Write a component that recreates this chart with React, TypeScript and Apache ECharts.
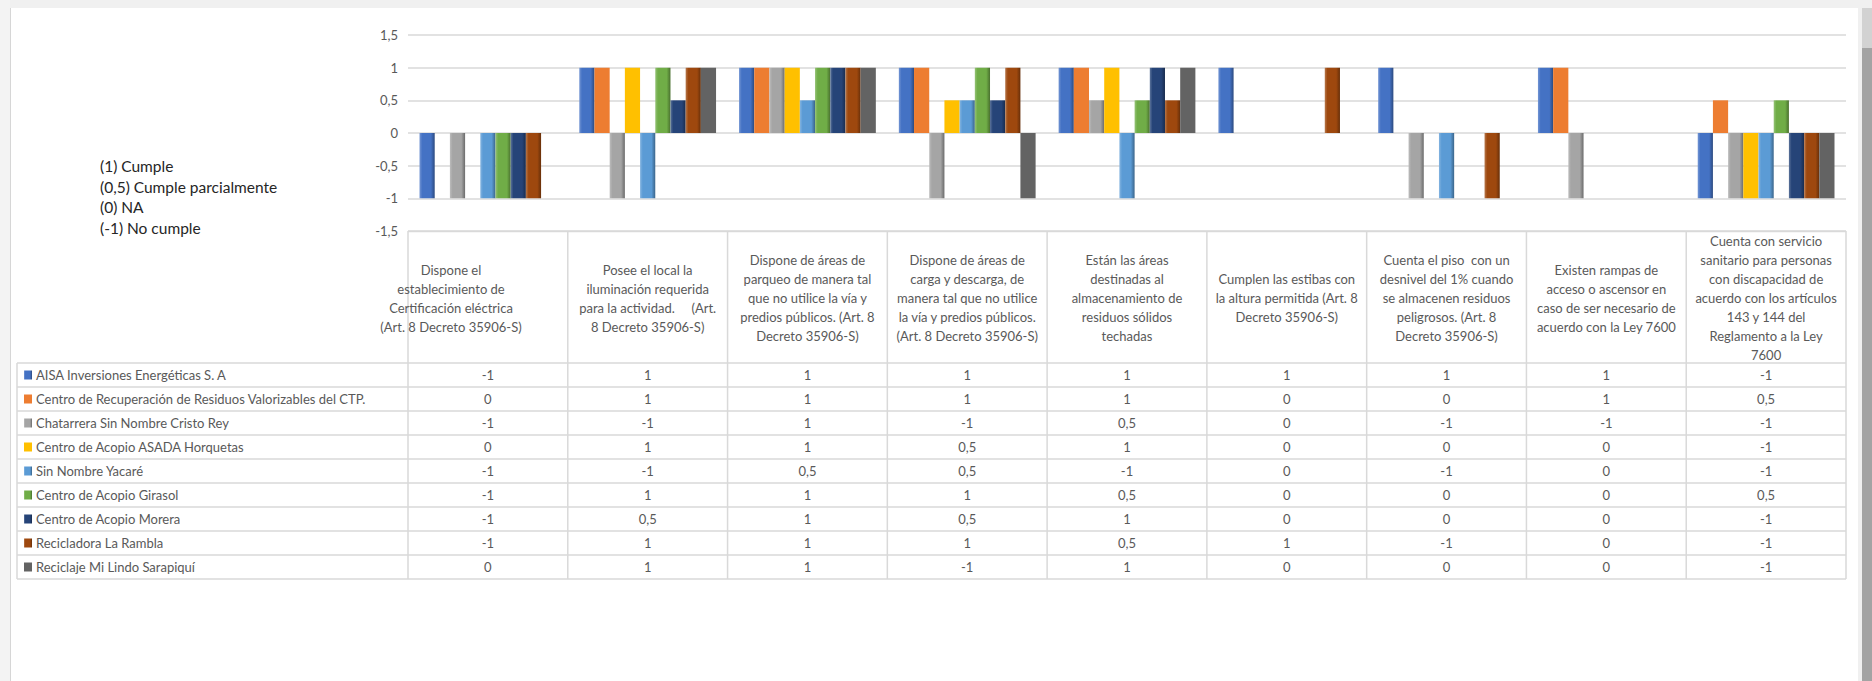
import React, { useEffect, useRef } from "react";
import * as echarts from "echarts";

const categories = [
  "Dispone el\nestablecimiento de\nCertificación eléctrica\n(Art. 8 Decreto 35906-S)",
  "Posee el local la\niluminación requerida\npara la actividad.     (Art.\n8 Decreto 35906-S)",
  "Dispone de áreas de\nparqueo de manera tal\nque no utilice la vía y\npredios públicos. (Art. 8\nDecreto 35906-S)",
  "Dispone de áreas de\ncarga y descarga, de\nmanera tal que no utilice\nla vía y predios públicos.\n(Art. 8 Decreto 35906-S)",
  "Están las áreas\ndestinadas al\nalmacenamiento de\nresiduos sólidos\ntechadas",
  "Cumplen las estibas con\nla altura permitida (Art. 8\nDecreto 35906-S)",
  "Cuenta el piso  con un\ndesnivel del 1% cuando\nse almacenen residuos\npeligrosos. (Art. 8\nDecreto 35906-S)",
  "Existen rampas de\nacceso o ascensor en\ncaso de ser necesario de\nacuerdo con la Ley 7600",
  "Cuenta con servicio\nsanitario para personas\ncon discapacidad de\nacuerdo con los artículos\n143 y 144 del\nReglamento a la Ley\n7600",
];

const seriesNames = [
  "AISA Inversiones Energéticas S. A",
  "Centro de Recuperación de Residuos Valorizables del CTP.",
  "Chatarrera Sin Nombre Cristo Rey",
  "Centro de Acopio ASADA Horquetas",
  "Sin Nombre Yacaré",
  "Centro de Acopio Girasol",
  "Centro de Acopio Morera",
  "Recicladora La Rambla",
  "Reciclaje Mi Lindo Sarapiquí",
];

const aisa = [-1, 1, 1, 1, 1, 1, 1, 1, -1];
const centroCTP = [0, 1, 1, 1, 1, 0, 0, 1, 0.5];
const chatarrera = [-1, -1, 1, -1, 0.5, 0, -1, -1, -1];
const asada = [0, 1, 1, 0.5, 1, 0, 0, 0, -1];
const yacare = [-1, -1, 0.5, 0.5, -1, 0, -1, 0, -1];
const girasol = [-1, 1, 1, 1, 0.5, 0, 0, 0, 0.5];
const morera = [-1, 0.5, 1, 0.5, 1, 0, 0, 0, -1];
const rambla = [-1, 1, 1, 1, 0.5, 1, -1, 0, -1];
const sarapiqui = [0, 1, 1, -1, 1, 0, 0, 0, -1];

const seriesValues = [aisa, centroCTP, chatarrera, asada, yacare, girasol, morera, rambla, sarapiqui];

const seriesColors = ["#4472C4", "#ED7D31", "#A5A5A5", "#FFC000", "#5B9BD5", "#70AD47", "#264478", "#9E480E", "#636363"];
const seriesBevel = [true, false, true, false, true, true, true, true, false];

const legendNotes = ["(1) Cumple", "(0,5) Cumple parcialmente", "(0) NA", "(-1) No cumple"];

// layout
const W = 1872;
const H = 681;
const GRID_LEFT = 408;
const GRID_RIGHT_X = 1846;
const GRID_TOP = 35;
const GRID_BOTTOM_Y = 231;
const TABLE_LEFT = 17;
const HEADER_BOTTOM = 363;
const ROW_H = 24;
const FONT = "Lato";
const TXT = "#595959";
const BORDER = "#d9d9d9";

const fmt = (v: number) => String(v).replace(".", ",");

function mix(hex: string, target: number, t: number) {
  const n = parseInt(hex.slice(1), 16);
  const r = (n >> 16) & 255, g = (n >> 8) & 255, b = n & 255;
  const f = (c: number) => Math.round(c + (target - c) * t);
  return `rgb(${f(r)},${f(g)},${f(b)})`;
}

function barColor(i: number) {
  const c = seriesColors[i];
  if (!seriesBevel[i]) return c;
  return new echarts.graphic.LinearGradient(0, 0, 1, 0, [
    { offset: 0, color: mix(c, 255, 0.25) },
    { offset: 0.18, color: c },
    { offset: 0.75, color: c },
    { offset: 1, color: mix(c, 0, 0.35) },
  ]);
}

export default function App() {
  const ref = useRef<HTMLDivElement>(null);
  useEffect(() => {
    if (!ref.current) return;
    const chart = echarts.init(ref.current, undefined, { renderer: "svg" });
    const colW = (GRID_RIGHT_X - GRID_LEFT) / categories.length;
    const tableBottom = HEADER_BOTTOM + ROW_H * seriesNames.length;
    const graphic: any[] = [];

    // page frame
    graphic.push({ type: "rect", shape: { x: 0, y: 0, width: W, height: 8 }, style: { fill: "#f0f0f0" }, silent: true });
    graphic.push({ type: "rect", shape: { x: 0, y: 0, width: 10, height: H }, style: { fill: "#f3f3f3" }, silent: true });
    graphic.push({ type: "line", shape: { x1: 10.5, y1: 8, x2: 10.5, y2: H }, style: { stroke: "#d6d6d6", lineWidth: 1 }, silent: true });
    graphic.push({ type: "rect", shape: { x: 1858, y: 0, width: 14, height: H }, style: { fill: "#f0f0f0" }, silent: true });
    graphic.push({ type: "rect", shape: { x: 1862, y: 8, width: 10, height: H - 8 }, style: { fill: "#a3a3a3" }, silent: true });
    graphic.push({ type: "rect", shape: { x: 1862, y: 8, width: 10, height: 40 }, style: { fill: "#d2d2d2" }, silent: true });

    // legend notes
    legendNotes.forEach((t, i) => {
      graphic.push({
        type: "text",
        style: { text: t, x: 100, y: 166 + i * 20.7, fill: "#262626", fontFamily: FONT, fontSize: 15.5, verticalAlign: "middle", align: "left" },
      });
    });

    // table lines
    graphic.push({ type: "line", shape: { x1: GRID_LEFT, y1: GRID_BOTTOM_Y + 0.5, x2: GRID_RIGHT_X, y2: GRID_BOTTOM_Y + 0.5 }, style: { stroke: BORDER, lineWidth: 1.5 } });
    for (let r = 0; r <= seriesNames.length; r++) {
      const y = HEADER_BOTTOM + r * ROW_H;
      graphic.push({ type: "line", shape: { x1: TABLE_LEFT, y1: y, x2: GRID_RIGHT_X, y2: y }, style: { stroke: BORDER, lineWidth: 1.5 } });
    }
    graphic.push({ type: "line", shape: { x1: TABLE_LEFT, y1: HEADER_BOTTOM, x2: TABLE_LEFT, y2: tableBottom }, style: { stroke: BORDER, lineWidth: 1.5 } });
    for (let c = 0; c <= categories.length; c++) {
      const x = GRID_LEFT + c * colW;
      graphic.push({ type: "line", shape: { x1: x, y1: GRID_BOTTOM_Y, x2: x, y2: tableBottom }, style: { stroke: BORDER, lineWidth: 1.5 } });
    }

    // header texts
    categories.forEach((cat, c) => {
      const cx = c === 0 ? GRID_LEFT + 43 : GRID_LEFT + (c + 0.5) * colW;
      graphic.push({
        type: "text",
        style: { text: cat, x: cx, y: (GRID_BOTTOM_Y + HEADER_BOTTOM) / 2 + 1, fill: TXT, fontFamily: FONT, fontSize: 13, lineHeight: 19, align: "center", verticalAlign: "middle" },
      });
    });

    // rows
    seriesNames.forEach((name, r) => {
      const yMid = HEADER_BOTTOM + (r + 0.5) * ROW_H;
      graphic.push({ type: "rect", shape: { x: 24, y: yMid - 4.5, width: 8, height: 9 }, style: { fill: barColor(r) } });
      graphic.push({
        type: "text",
        style: { text: name, x: 36, y: yMid, fill: TXT, fontFamily: FONT, fontSize: 13, align: "left", verticalAlign: "middle" },
      });
      seriesValues[r].forEach((v, c) => {
        graphic.push({
          type: "text",
          style: { text: fmt(v), x: GRID_LEFT + (c + 0.5) * colW, y: yMid, fill: TXT, fontFamily: FONT, fontSize: 13, align: "center", verticalAlign: "middle" },
        });
      });
    });

    chart.setOption({
      animation: false,
      backgroundColor: "#ffffff",
      grid: { left: GRID_LEFT, right: W - GRID_RIGHT_X, top: GRID_TOP, height: GRID_BOTTOM_Y - GRID_TOP, containLabel: false },
      xAxis: {
        type: "category",
        data: categories,
        axisLabel: { show: false },
        axisTick: { show: false },
        axisLine: { show: false },
      },
      yAxis: {
        type: "value",
        min: -1.5,
        max: 1.5,
        interval: 0.5,
        axisLine: { show: false },
        axisTick: { show: false },
        splitLine: { lineStyle: { color: BORDER, width: 1.5 } },
        axisLabel: { color: TXT, fontFamily: FONT, fontSize: 13, margin: 10, formatter: (v: number) => fmt(v) },
      },
      series: seriesNames.map((name, i) => ({
        name,
        type: "bar",
        data: seriesValues[i],
        barGap: "0%",
        barCategoryGap: "14.4%",
        itemStyle: { color: barColor(i) },
      })),
      graphic,
    });
    return () => chart.dispose();
  }, []);
  return <div ref={ref} style={{ position: "fixed", left: 0, top: 0, width: W, height: H }} />;
}
